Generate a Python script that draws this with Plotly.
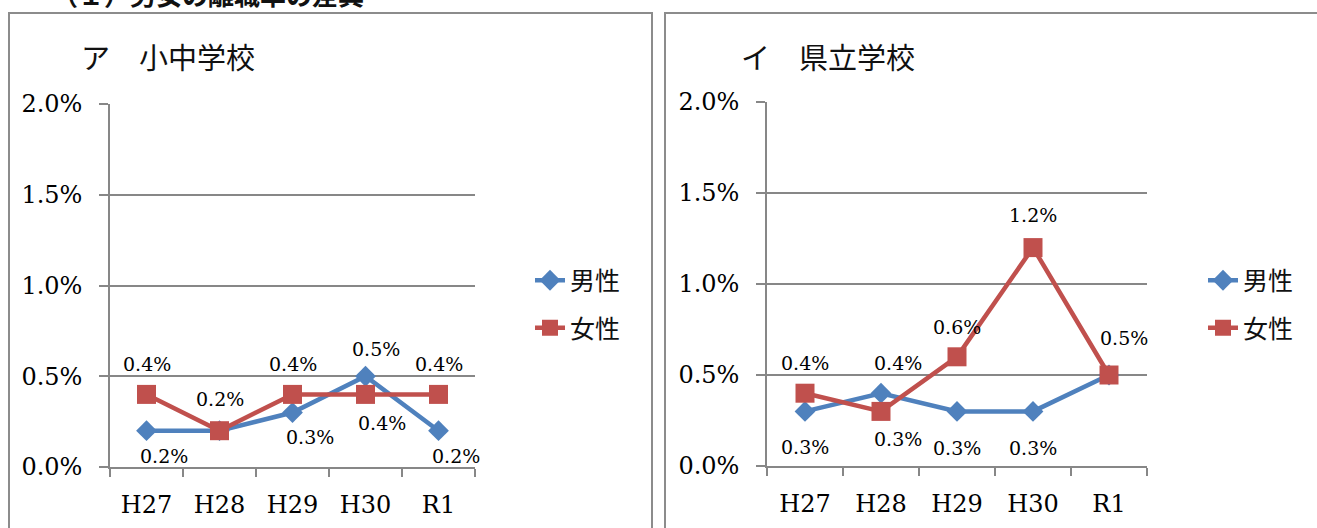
import plotly.graph_objects as go

W, H = 1317, 528

# Fiscal years (Heisei 27 .. Reiwa 1)
years = ["H27", "H28", "H29", "H30", "R1"]

# Resignation rate (%) - elementary / junior high schools
elem_male = [0.2, 0.2, 0.3, 0.5, 0.2]
elem_female = [0.4, 0.2, 0.4, 0.4, 0.4]

# Resignation rate (%) - prefectural schools
pref_male = [0.3, 0.4, 0.3, 0.3, 0.5]
pref_female = [0.4, 0.3, 0.6, 1.2, 0.5]

# Data-label placement per point: (dx, dy) in px, None = no label
elem_male_lbl = [(17, 25), None, (17, 24), (10, -27), (17, 25)]
elem_female_lbl = [(0, -30), (0, -32), (0, -30), (16, 29), (0, -30)]
pref_male_lbl = [(0, 36), (17, -30), (0, 37), (0, 37), None]
pref_female_lbl = [(0, -30), (17, 28), (0, -30), (0, -33), (15, -37)]

BLUE = "#4F81BD"
RED = "#C0504D"
GRID = "#878787"
FRAME = "#8C8C8C"
SERIF = "DejaVu Serif"
JP = "Noto Sans CJK JP"


def px_x(x):
    return x / W


def px_y(y):
    return (H - y) / H


fig = go.Figure()

panels = [
    dict(xa="x", ya="y", leg="legend", male=elem_male, female=elem_female,
         ml=elem_male_lbl, fl=elem_female_lbl, g="a"),
    dict(xa="x2", ya="y2", leg="legend2", male=pref_male, female=pref_female,
         ml=pref_male_lbl, fl=pref_female_lbl, g="b"),
]

annotations = []
for p in panels:
    fig.add_trace(go.Scatter(
        x=years, y=p["male"], name="男性", mode="lines+markers",
        xaxis=p["xa"], yaxis=p["ya"], legend=p["leg"], legendgroup=p["g"] + "m",
        line=dict(color=BLUE, width=4.5),
        marker=dict(symbol="diamond", size=16, color=BLUE),
        hoverinfo="skip",
    ))
    fig.add_trace(go.Scatter(
        x=years, y=p["female"], name="女性", mode="lines+markers",
        xaxis=p["xa"], yaxis=p["ya"], legend=p["leg"], legendgroup=p["g"] + "f",
        line=dict(color=RED, width=4.5),
        marker=dict(symbol="square", size=19, color=RED),
        hoverinfo="skip",
    ))
    for vals, offs in ((p["male"], p["ml"]), (p["female"], p["fl"])):
        for cat, v, off in zip(years, vals, offs):
            if off is None:
                continue
            annotations.append(dict(
                x=cat, y=v, xref=p["xa"], yref=p["ya"],
                text=f"{v:.1f}%", showarrow=False,
                xshift=off[0], yshift=-off[1],
                font=dict(family=SERIF, size=19, color="#000000"),
            ))

# Panel titles
annotations.append(dict(x=px_x(79), y=px_y(56), xref="paper", yref="paper",
                        text="ア　小中学校", showarrow=False, xanchor="left",
                        yanchor="middle", font=dict(family=JP, size=29, color="#111111")))
annotations.append(dict(x=px_x(739), y=px_y(56), xref="paper", yref="paper",
                        text="イ　県立学校", showarrow=False, xanchor="left",
                        yanchor="middle", font=dict(family=JP, size=29, color="#111111")))
# Section heading (runs off the top edge of the page)
annotations.append(dict(x=px_x(50), y=px_y(-7), xref="paper", yref="paper",
                        text="<b>（１）男女の離職率の差異</b>", showarrow=False,
                        xanchor="left", yanchor="middle",
                        font=dict(family=JP, size=26, color="#111111")))


def open_frame(x0, x1, top, bottom, right_side=True):
    path = f"M{px_x(x0)},{px_y(bottom)} L{px_x(x0)},{px_y(top)} L{px_x(x1)},{px_y(top)}"
    if right_side:
        path += f" L{px_x(x1)},{px_y(bottom)}"
    return dict(type="path", xref="paper", yref="paper", layer="below",
                path=path, line=dict(color=FRAME, width=2))


# Chart frames (bottom edges lie below the page)
shapes = [
    open_frame(9, 652, 13, 560),
    open_frame(665, 1340, 13, 560, right_side=False),
]

xaxis_style = dict(
    type="category", range=[-0.5, len(years) - 0.5], tickson="boundaries",
    ticks="outside", ticklen=8,
    tickwidth=1.5, tickcolor=GRID, showline=True, linecolor=GRID, linewidth=1.5,
    showgrid=False, tickfont=dict(family=SERIF, size=24, color="#000000"),
    ticklabelstandoff=15, fixedrange=True, automargin=False,
)
yaxis_style = dict(
    range=[0, 2.0], dtick=0.5, tickformat=".1f", ticksuffix="%",
    ticks="outside", ticklen=9, tickwidth=1.5, tickcolor=GRID,
    showline=True, linecolor=GRID, linewidth=1.5,
    showgrid=True, gridcolor=GRID, gridwidth=1.5, zeroline=False,
    tickfont=dict(family=SERIF, size=24, color="#000000"),
    ticklabelstandoff=12, fixedrange=True, automargin=False,
)

legend_style = dict(
    bgcolor="rgba(0,0,0,0)", font=dict(family=JP, size=25, color="#111111"),
    tracegroupgap=12, itemsizing="trace", xanchor="left", yanchor="middle",
)

fig.update_layout(
    width=W, height=H,
    margin=dict(l=0, r=0, t=0, b=0, autoexpand=False),
    paper_bgcolor="white", plot_bgcolor="white",
    showlegend=True,
    xaxis=dict(domain=[px_x(110), px_x(475)], anchor="y", **xaxis_style),
    yaxis=dict(domain=[px_y(467), px_y(104)], anchor="x", **yaxis_style),
    xaxis2=dict(domain=[px_x(767), px_x(1147)], anchor="y2", **xaxis_style),
    yaxis2=dict(domain=[px_y(466), px_y(102)], anchor="x2", **yaxis_style),
    legend=dict(x=px_x(530), y=px_y(304), **legend_style),
    legend2=dict(x=px_x(1203), y=px_y(304), **legend_style),
    annotations=annotations,
    shapes=shapes,
)

fig.write_html("out.html")
